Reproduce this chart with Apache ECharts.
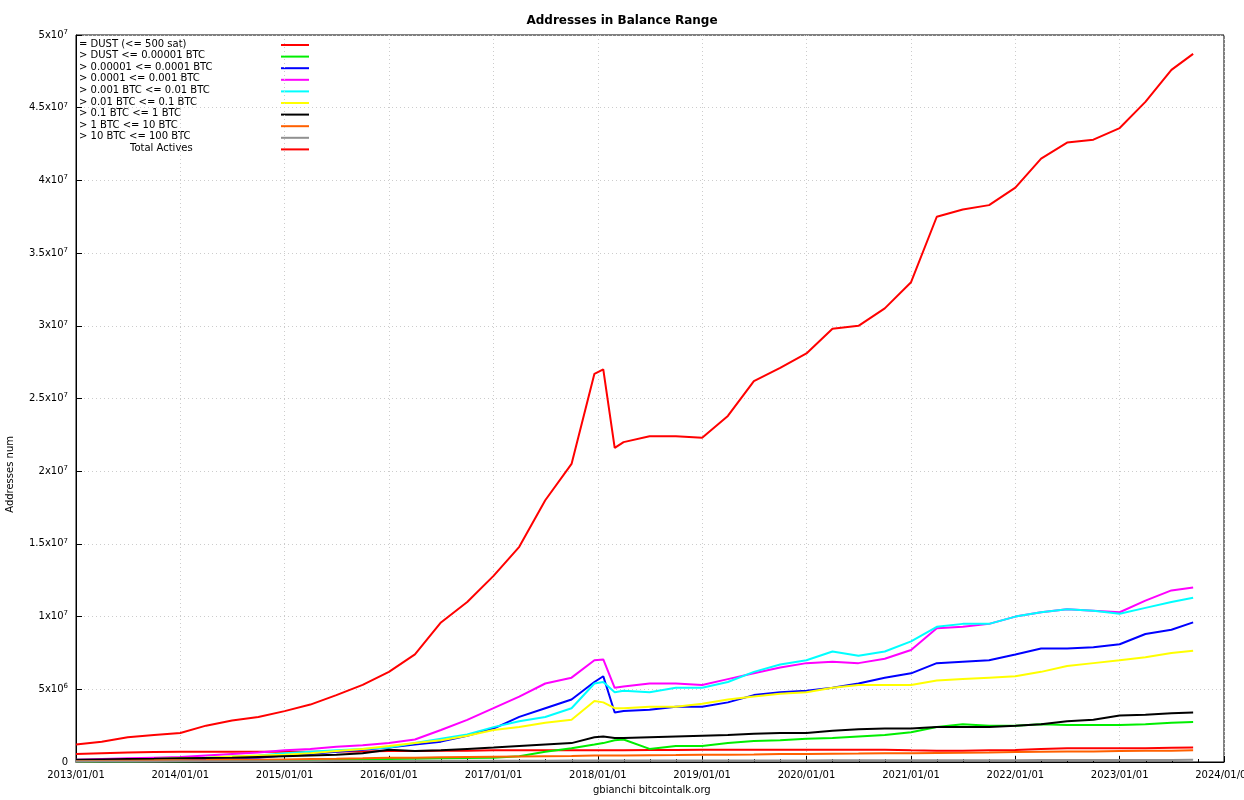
<!DOCTYPE html>
<html>
<head>
<meta charset="utf-8">
<script src="https://cdn.jsdelivr.net/npm/echarts@6/dist/echarts.min.js"></script>
<style>html,body{margin:0;padding:0;background:#fff}#chart{width:1244px;height:800px}</style>
</head>
<body>
<div id="chart"></div>
<script>
var dates = ["2013-01-01","2013-04-01","2013-07-01","2013-10-01","2014-01-01","2014-04-01","2014-07-01","2014-10-01",
  "2015-01-01","2015-04-01","2015-07-01","2015-10-01","2016-01-01","2016-04-01","2016-07-01","2016-10-01",
  "2017-01-01","2017-04-01","2017-07-01","2017-10-01","2017-12-20","2018-01-20","2018-03-01","2018-04-01",
  "2018-07-01","2018-10-01","2019-01-01","2019-04-01","2019-07-01","2019-10-01","2020-01-01","2020-04-01",
  "2020-07-01","2020-10-01","2021-01-01","2021-04-01","2021-07-01","2021-10-01","2022-01-01","2022-04-01",
  "2022-07-01","2022-10-01","2023-01-01","2023-04-01","2023-07-01","2023-09-15"];

// values in millions of addresses
var dust = [0.55,0.6,0.65,0.68,0.7,0.7,0.7,0.7,0.7,0.7,0.72,0.72,0.75,0.75,0.78,0.78,0.8,0.8,0.8,0.8,0.8,0.8,0.8,0.8,
  0.82,0.82,0.85,0.85,0.85,0.85,0.85,0.85,0.85,0.85,0.8,0.78,0.78,0.8,0.82,0.9,0.95,0.95,0.95,0.95,0.98,1.0];
var dustTo00001 = [0.02,0.03,0.04,0.05,0.06,0.07,0.08,0.09,0.1,0.12,0.14,0.16,0.2,0.22,0.25,0.28,0.3,0.4,0.7,0.95,1.2,1.3,1.5,1.55,
  0.9,1.1,1.1,1.3,1.45,1.5,1.6,1.65,1.75,1.85,2.05,2.4,2.6,2.5,2.5,2.6,2.55,2.55,2.55,2.6,2.7,2.75];
var to0001 = [0.05,0.08,0.1,0.13,0.16,0.2,0.25,0.3,0.45,0.55,0.7,0.85,1.0,1.2,1.4,1.8,2.3,3.1,3.7,4.3,5.5,5.9,3.4,3.5,
  3.6,3.8,3.8,4.1,4.6,4.8,4.9,5.1,5.4,5.8,6.1,6.8,6.9,7.0,7.4,7.8,7.8,7.9,8.1,8.8,9.1,9.6];
var to001 = [0.15,0.2,0.25,0.3,0.35,0.45,0.55,0.65,0.8,0.9,1.05,1.15,1.3,1.55,2.2,2.9,3.7,4.5,5.4,5.8,7.0,7.05,5.1,5.2,
  5.4,5.4,5.3,5.7,6.1,6.5,6.8,6.9,6.8,7.1,7.7,9.2,9.3,9.5,10.0,10.3,10.5,10.4,10.3,11.1,11.8,12.0];
var to01 = [0.1,0.12,0.15,0.2,0.25,0.3,0.38,0.45,0.6,0.7,0.8,0.9,1.0,1.3,1.6,1.9,2.4,2.8,3.1,3.7,5.4,5.5,4.8,4.9,
  4.8,5.1,5.1,5.5,6.2,6.7,7.0,7.6,7.3,7.6,8.3,9.3,9.5,9.5,10.0,10.3,10.5,10.4,10.2,10.6,11.0,11.3];
var to1 = [0.1,0.12,0.15,0.2,0.25,0.3,0.38,0.45,0.5,0.6,0.75,0.9,1.1,1.3,1.5,1.8,2.2,2.4,2.7,2.9,4.2,4.1,3.7,3.7,
  3.8,3.8,4.0,4.3,4.5,4.7,4.8,5.1,5.3,5.3,5.3,5.6,5.7,5.8,5.9,6.2,6.6,6.8,7.0,7.2,7.5,7.65];
var to10 = [0.15,0.18,0.2,0.22,0.25,0.28,0.3,0.35,0.4,0.45,0.5,0.6,0.85,0.75,0.8,0.9,1.0,1.1,1.2,1.3,1.7,1.75,1.65,1.65,
  1.7,1.75,1.8,1.85,1.95,2.0,2.0,2.15,2.25,2.3,2.3,2.4,2.4,2.4,2.5,2.6,2.8,2.9,3.2,3.25,3.35,3.4];
var to100 = [0.05,0.07,0.09,0.1,0.12,0.13,0.15,0.16,0.18,0.2,0.22,0.25,0.3,0.3,0.32,0.34,0.36,0.38,0.4,0.42,0.45,0.45,0.45,0.45,
  0.47,0.48,0.5,0.5,0.52,0.55,0.55,0.57,0.58,0.6,0.6,0.62,0.63,0.65,0.68,0.7,0.72,0.73,0.75,0.77,0.78,0.8];
var to1000 = [0.03,0.03,0.04,0.04,0.05,0.05,0.05,0.06,0.06,0.06,0.07,0.07,0.07,0.08,0.08,0.08,0.09,0.09,0.09,0.1,0.1,0.1,0.1,0.1,
  0.1,0.1,0.1,0.1,0.1,0.11,0.11,0.12,0.12,0.12,0.12,0.12,0.12,0.12,0.12,0.13,0.13,0.13,0.14,0.14,0.14,0.15];
var total = [1.2,1.4,1.7,1.85,2.0,2.5,2.85,3.1,3.5,3.95,4.6,5.3,6.2,7.4,9.6,11.0,12.8,14.8,18.0,20.5,26.7,27.0,21.6,22.0,
  22.4,22.4,22.3,23.8,26.2,27.1,28.1,29.8,30.0,31.2,33.0,37.5,38.0,38.3,39.5,41.5,42.6,42.8,43.6,45.4,47.6,48.7];

var names = ["= DUST (<= 500 sat)","> DUST <= 0.00001 BTC","> 0.00001 <= 0.0001 BTC","> 0.0001 <= 0.001 BTC",
  "> 0.001 BTC <= 0.01 BTC","> 0.01 BTC <= 0.1 BTC","> 0.1 BTC <= 1 BTC","> 1 BTC <= 10 BTC","> 10 BTC <= 100 BTC","Total Actives"];
var colors = ["#ff0000","#00ee00","#0000ff","#ff00ff","#00ffff","#ffff00","#000000","#ff6000","#909090","#ff0000"];
var values = [dust,dustTo00001,to0001,to001,to01,to1,to10,to100,to1000,total];

var series = values.map(function (v, i) {
  return {
    name: names[i], type: "line", showSymbol: false, silent: true,
    lineStyle: { width: 2, color: colors[i] },
    data: v.map(function (y, j) { return [dates[j], y * 1e6]; }),
  };
});

var graphic = [];
names.forEach(function (n, i) {
  var y = 45 + i * 11.6;
  graphic.push({
    type: "text", left: i == 9 ? 130 : 79, top: y - 6,
    style: { text: n, font: "10px DejaVu Sans", fill: "#000" },
  });
  graphic.push({
    type: "line", shape: { x1: 281, y1: y, x2: 309, y2: y },
    style: { stroke: colors[i], lineWidth: 2 },
  });
});
graphic.push({ type: "text", left: 593, top: 785, style: { text: "gbianchi bitcointalk.org", font: "10px DejaVu Sans", fill: "#000" } });
graphic.push({ type: "text", left: 5, top: 436, rotation: Math.PI / 2, style: { text: "Addresses num", font: "10px DejaVu Sans", fill: "#000" } });

function yFmt(v) {
  if (v == 0) return "0";
  var e = Math.floor(Math.log10(v) + 1e-9);
  var m = +(v / Math.pow(10, e)).toFixed(2);
  return m + "x10{s|" + e + "}";
}

var myChart = echarts.init(document.getElementById("chart"), null, { renderer: "canvas" });
myChart.setOption({
  animation: false,
  textStyle: { fontFamily: "DejaVu Sans" },
  title: { text: "Addresses in Balance Range", left: "center", top: 10,
    textStyle: { fontSize: 12, fontWeight: "bold", color: "#000", fontFamily: "DejaVu Sans" } },
  grid: { left: 76, right: 20, top: 35, bottom: 38, show: true, borderColor: "#000", borderWidth: 1, outerBoundsMode: "none" },
  xAxis: {
    type: "time", min: "2013-01-01", max: "2024-01-01",
    minInterval: 365 * 86400000, maxInterval: 366 * 86400000,
    axisLine: { lineStyle: { color: "#000" } },
    axisTick: { inside: true, length: 6, lineStyle: { color: "#000" } },
    minorTick: { show: true, splitNumber: 4, length: 3, lineStyle: { color: "#000" } },
    axisLabel: { color: "#000", fontSize: 10, formatter: "{yyyy}/{MM}/{dd}", hideOverlap: false, showMaxLabel: true },
    splitLine: { show: true, lineStyle: { color: "#ccc", type: [1, 3] } },
  },
  yAxis: {
    type: "value", min: 0, max: 5e7, interval: 5e6,
    axisLine: { show: true, lineStyle: { color: "#000" } },
    axisTick: { show: true, inside: true, length: 6, lineStyle: { color: "#000" } },
    axisLabel: { color: "#000", fontSize: 10, formatter: yFmt, rich: { s: { fontSize: 7, verticalAlign: "top", padding: [0, 0, 6, 0] } } },
    splitLine: { show: true, lineStyle: { color: "#ccc", type: [1, 3] } },
  },
  graphic: graphic,
  series: series,
});
</script>
</body>
</html>
